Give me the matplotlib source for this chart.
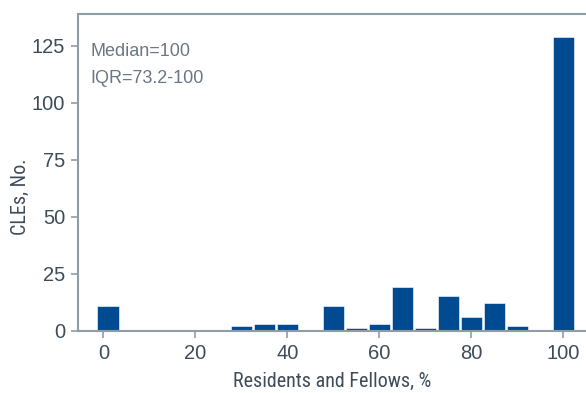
import matplotlib
matplotlib.use("Agg")
import matplotlib.pyplot as plt
from matplotlib import font_manager

# Data
bin_centers = [1, 30, 35, 40, 50, 55, 60, 65, 70, 75, 80, 85, 90, 100]
counts = [11, 2, 3, 3, 11, 1, 3, 19, 1, 15, 6, 12, 2, 129]
x_ticks = [0, 20, 40, 60, 80, 100]
y_ticks = [0, 25, 50, 75, 100, 125]
note_lines = ["Median=100", "IQR=73.2-100"]
x_label = "Residents and Fellows, %"
y_label = "CLEs, No."

names = {f.name for f in font_manager.fontManager.ttflist}
narrow = None
for cand in ["Liberation Sans Narrow", "Roboto Condensed", "Open Sans Condensed"]:
    if cand in names:
        narrow = cand
        break

bar_color = "#004A91"
spine_color = "#8F9CA7"
text_color = "#3E4C59"
note_color = "#6A7784"

plt.rcParams['font.family'] = ['Liberation Sans', 'DejaVu Sans']

fig = plt.figure(figsize=(5.86, 3.93), dpi=100)
ax = fig.add_axes([0.1326, 0.1588, 0.8674, 0.8056])

ax.bar(bin_centers, counts, width=4.6, color=bar_color, edgecolor="white", linewidth=0.4)

ax.set_xlim(-5.6, 104.9)
ax.set_ylim(0, 139)
ax.set_xticks(x_ticks)
ax.set_yticks(y_ticks)

for side in ["top", "left", "bottom"]:
    ax.spines[side].set_color(spine_color)
    ax.spines[side].set_linewidth(1.5)
ax.spines["right"].set_visible(False)

ax.tick_params(axis="both", colors=spine_color, labelcolor=text_color, labelsize=14.5,
               length=5, width=1.2, direction="out")
ax.tick_params(axis="x", pad=5)
ax.tick_params(axis="y", pad=4)

if narrow:
    lab_kw = dict(family=[narrow, 'DejaVu Sans'])
else:
    lab_kw = dict(family=['DejaVu Sans'], fontstretch='condensed')

ax.set_xlabel(x_label, fontsize=14.5, color=text_color, labelpad=6, **lab_kw)
ax.set_ylabel(y_label, fontsize=14.5, color=text_color, **lab_kw)
ax.yaxis.set_label_coords(-0.094, 0.423)

ax.text(0.0242, 0.866, note_lines[0], transform=ax.transAxes, fontsize=13,
        color=note_color, va="baseline", ha="left")
ax.text(0.0242, 0.782, note_lines[1], transform=ax.transAxes, fontsize=13,
        color=note_color, va="baseline", ha="left")

fig.savefig("out.png", dpi=100)
